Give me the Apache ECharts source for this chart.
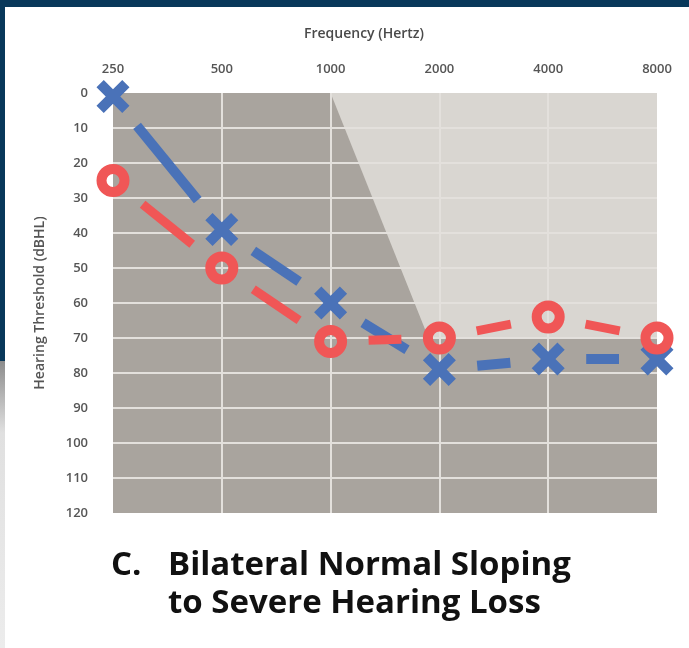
<!DOCTYPE html>
<html><head><meta charset="utf-8">
<script src="https://cdn.jsdelivr.net/npm/echarts@6/dist/echarts.min.js"></script>
<style>html,body{margin:0;padding:0;background:#fff;}#c{width:689px;height:648px;}</style>
</head><body><div id="c"></div>
<script>
// Frequencies (x categories, positioned by index on an octave scale)
const freqLabels = ['250', '500', '1000', '2000', '4000', '8000'];
// Right ear (red O) thresholds, dBHL
const rightEar = [25, 50, 71, 70, 64, 70];
// Left ear (blue X) thresholds, dBHL
const leftEar = [1, 39, 60, 79, 76, 76];
// Light shaded region boundary (octave index, dBHL)
const shadeX = [2, 2.9, 5, 5];
const shadeY = [0, 70, 70, 0];

const BLUE = '#4a72b8', RED = '#f05656';
const DARK = '#a9a49e', LIGHT = '#d9d6d1', GRID = '#e3e0dc';
const NAVY = '#08385a';
const FONT = '"Open Sans", "Lato", sans-serif';
const TITLE_FONT = 'bold 33px "Open Sans", sans-serif';

function pts(arr) { return arr.map((v, i) => [i, v]); }
function segs(arr) {
  const out = [];
  for (let i = 0; i < arr.length - 1; i++) out.push([i, arr[i], i + 1, arr[i + 1]]);
  return out;
}
function segRender(color, width) {
  return function (params, api) {
    const p0 = api.coord([api.value(0), api.value(1)]);
    const p1 = api.coord([api.value(2), api.value(3)]);
    const dx = p1[0] - p0[0], dy = p1[1] - p0[1];
    const len = Math.sqrt(dx * dx + dy * dy);
    const gap = 38;
    const ux = dx / len, uy = dy / len;
    return {
      type: 'line',
      shape: { x1: p0[0] + ux * gap, y1: p0[1] + uy * gap, x2: p1[0] - ux * gap, y2: p1[1] - uy * gap },
      style: { stroke: color, lineWidth: width, lineCap: 'butt' }
    };
  };
}

const chart = echarts.init(document.getElementById('c'), null, { renderer: 'canvas' });
chart.setOption({
  animation: false,
  backgroundColor: '#ffffff',
  grid: { left: 113, right: 32, top: 93, bottom: 135 },
  xAxis: {
    type: 'value', min: 0, max: 5, interval: 1, position: 'top',
    axisLine: { show: false }, axisTick: { show: false },
    axisLabel: { formatter: v => freqLabels[v], color: '#555', fontFamily: FONT, fontWeight: 600, fontSize: 13, margin: 17 },
    splitLine: { show: true, showMinLine: false, showMaxLine: false, lineStyle: { color: GRID, width: 2 } }
  },
  yAxis: {
    type: 'value', min: 0, max: 120, interval: 10, inverse: true,
    axisLine: { show: false }, axisTick: { show: false },
    axisLabel: { color: '#555', fontFamily: FONT, fontWeight: 600, fontSize: 13, margin: 25 },
    splitLine: { show: true, showMinLine: false, showMaxLine: false, lineStyle: { color: GRID, width: 2 } },
    name: 'Hearing Threshold (dBHL)', nameLocation: 'middle', nameGap: 66,
    nameTextStyle: { color: '#555', fontFamily: FONT, fontWeight: 600, fontSize: 14 }
  },
  graphic: [
    { type: 'rect', shape: { x: 0, y: 0, width: 689, height: 7 }, style: { fill: NAVY } },
    { type: 'rect', shape: { x: 0, y: 0, width: 5, height: 361 }, style: { fill: NAVY } },
    { type: 'rect', shape: { x: 0, y: 361, width: 5, height: 287 },
      style: { fill: new echarts.graphic.LinearGradient(0, 0, 0, 1, [
        { offset: 0, color: '#8c8c8c' }, { offset: 0.25, color: '#e0e0e0' }, { offset: 1, color: '#ececec' }]) } },
    { type: 'text', left: 304, top: 27, style: { text: 'Frequency (Hertz)', fill: '#4a4a4a', font: '600 14px ' + FONT } },
    { type: 'text', left: 111, top: 549, style: { text: 'C.', fill: '#111', font: TITLE_FONT } },
    { type: 'text', left: 168, top: 549, style: { text: 'Bilateral Normal Sloping', fill: '#111', font: TITLE_FONT } },
    { type: 'text', left: 168, top: 587, style: { text: 'to Severe Hearing Loss', fill: '#111', font: TITLE_FONT } }
  ],
  series: [
    {
      type: 'custom', z: -1, silent: true,
      data: [[0]],
      renderItem: function (params, api) {
        const cs = params.coordSys;
        const poly = shadeX.map((x, i) => api.coord([x, shadeY[i]]));
        return {
          type: 'group', children: [
            { type: 'rect', shape: { x: cs.x, y: cs.y, width: cs.width, height: cs.height }, style: { fill: DARK } },
            { type: 'polygon', shape: { points: poly }, style: { fill: LIGHT } }
          ]
        };
      }
    },
    { type: 'custom', name: 'leftLine', data: segs(leftEar), encode: { x: [0, 2], y: [1, 3] }, renderItem: segRender(BLUE, 10), z: 3 },
    { type: 'custom', name: 'rightLine', data: segs(rightEar), encode: { x: [0, 2], y: [1, 3] }, renderItem: segRender(RED, 9), z: 3 },
    {
      type: 'scatter', name: 'Left', data: pts(leftEar), z: 4,
      symbol: 'path://M22,0 L50,28 L78,0 L100,22 L72,50 L100,78 L78,100 L50,72 L22,100 L0,78 L28,50 L0,22 Z',
      symbolSize: 33, itemStyle: { color: BLUE, opacity: 1 }
    },
    {
      type: 'scatter', name: 'Right', data: pts(rightEar), z: 5,
      symbol: 'circle', symbolSize: 23,
      itemStyle: { color: 'rgba(0,0,0,0)', borderColor: RED, borderWidth: 10, opacity: 1 }
    }
  ]
});
</script></body></html>
